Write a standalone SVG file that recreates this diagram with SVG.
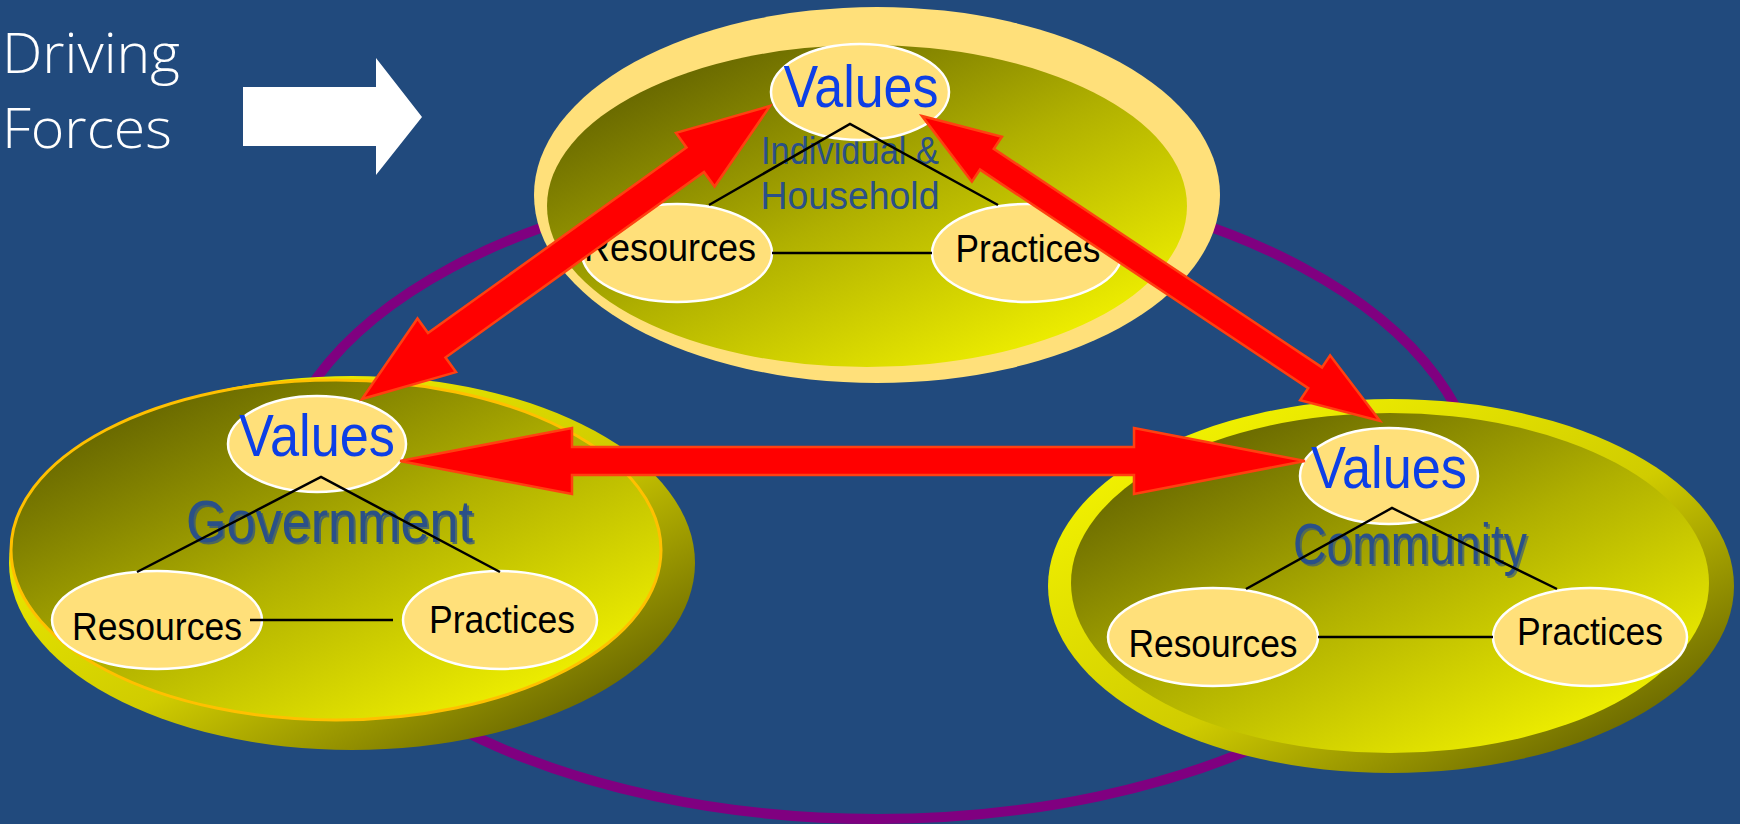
<svg xmlns="http://www.w3.org/2000/svg" width="1740" height="824" viewBox="0 0 1740 824">
  <defs>
    <linearGradient id="gInner" x1="0.1" y1="0.05" x2="0.9" y2="0.95">
      <stop offset="0" stop-color="#5C5C00"/>
      <stop offset="0.5" stop-color="#B0B000"/>
      <stop offset="1" stop-color="#F8F800"/>
    </linearGradient>
    <linearGradient id="gRim" x1="0.1" y1="0.1" x2="0.9" y2="0.9">
      <stop offset="0" stop-color="#F4F400"/>
      <stop offset="0.55" stop-color="#D0CC00"/>
      <stop offset="1" stop-color="#626000"/>
    </linearGradient>
    <style>
      .node { fill: #FFE07A; stroke: #FFFFFF; stroke-width: 2.5; }
      .val { font-family: "Liberation Sans", Arial, sans-serif; font-size: 60px; fill: #0D3FE6; text-anchor: middle; }
      .lbl { font-family: "Liberation Sans", Arial, sans-serif; font-size: 38px; fill: #000000; text-anchor: middle; }
      .grp { font-family: "Liberation Sans", Arial, sans-serif; fill: #2A5088; text-anchor: middle; }
      .link { stroke: #000000; stroke-width: 2.5; fill: none; }
      .arrow { fill: #FF0000; stroke: #FF4010; stroke-width: 2.5; stroke-linejoin: miter; }
      .df { font-family: "Open Sans", "Liberation Sans", sans-serif; font-weight: 300; font-size: 56px; fill: #FFFFFF; }
    </style>
  </defs>

  <rect x="0" y="0" width="1740" height="824" fill="#214A7D"/>

  <g id="cycle">
    <ellipse cx="877" cy="496" rx="602" ry="323" fill="none" stroke="#800080" stroke-width="10"/>
  </g>

  <g id="driving-forces">
    <text class="df" x="2" y="73" textLength="178" lengthAdjust="spacingAndGlyphs">Driving</text>
    <text class="df" x="2" y="148" textLength="170" lengthAdjust="spacingAndGlyphs">Forces</text>
    <polygon points="243,87 376,87 376,58 422,117 376,175 376,146 243,146" fill="#FFFFFF"/>
  </g>

  <g id="household">
    <ellipse cx="877" cy="195" rx="343" ry="188" fill="#FFE07A"/>
    <ellipse cx="867" cy="206" rx="320" ry="161" fill="url(#gInner)"/>
    <text class="grp" x="850" y="164" font-size="38" textLength="178" lengthAdjust="spacingAndGlyphs">Individual &amp;</text>
    <text class="grp" x="850" y="209" font-size="38" textLength="179" lengthAdjust="spacingAndGlyphs">Household</text>
    <g id="household-values">
      <ellipse class="node" cx="860" cy="92" rx="89" ry="48"/>
      <text class="val" x="861" y="107" textLength="155" lengthAdjust="spacingAndGlyphs">Values</text>
    </g>
    <g id="household-resources">
      <ellipse class="node" cx="677" cy="253" rx="95" ry="49"/>
      <text class="lbl" x="670" y="261" textLength="172" lengthAdjust="spacingAndGlyphs">Resources</text>
    </g>
    <g id="household-practices">
      <ellipse class="node" cx="1027" cy="253" rx="95" ry="49"/>
      <text class="lbl" x="1028" y="262" textLength="145" lengthAdjust="spacingAndGlyphs">Practices</text>
    </g>
  </g>

  <g id="government">
    <ellipse cx="352" cy="563" rx="343" ry="187" fill="url(#gRim)"/>
    <ellipse cx="336" cy="550" rx="325" ry="170" fill="url(#gInner)" stroke="#FFC000" stroke-width="3"/>
    <text class="grp" x="331.5" y="544" font-size="60" fill="#F0F0B0" opacity="0.7" textLength="287" lengthAdjust="spacingAndGlyphs">Government</text>
    <text class="grp" x="329.5" y="542" font-size="60" textLength="287" lengthAdjust="spacingAndGlyphs">Government</text>
    <g id="government-values">
      <ellipse class="node" cx="317" cy="444" rx="89" ry="48"/>
      <text class="val" x="317" y="456" textLength="156" lengthAdjust="spacingAndGlyphs">Values</text>
    </g>
    <g id="government-resources">
      <ellipse class="node" cx="157" cy="620" rx="105" ry="49"/>
      <text class="lbl" x="157" y="640" textLength="170" lengthAdjust="spacingAndGlyphs">Resources</text>
    </g>
    <g id="government-practices">
      <ellipse class="node" cx="500" cy="620" rx="97" ry="49"/>
      <text class="lbl" x="502" y="633" textLength="146" lengthAdjust="spacingAndGlyphs">Practices</text>
    </g>
  </g>

  <g id="community">
    <ellipse cx="1391" cy="586" rx="343" ry="187" fill="url(#gRim)"/>
    <ellipse cx="1390" cy="583" rx="319" ry="170" fill="url(#gInner)"/>
    <text class="grp" x="1412" y="566" font-size="58" fill="#303000" opacity="0.6" textLength="234" lengthAdjust="spacingAndGlyphs">Community</text>
    <text class="grp" x="1410" y="564" font-size="58" textLength="234" lengthAdjust="spacingAndGlyphs">Community</text>
    <g id="community-values">
      <ellipse class="node" cx="1389" cy="476" rx="89" ry="48"/>
      <text class="val" x="1389" y="488" textLength="156" lengthAdjust="spacingAndGlyphs">Values</text>
    </g>
    <g id="community-resources">
      <ellipse class="node" cx="1213" cy="637" rx="105" ry="49"/>
      <text class="lbl" x="1213" y="657" textLength="169" lengthAdjust="spacingAndGlyphs">Resources</text>
    </g>
    <g id="community-practices">
      <ellipse class="node" cx="1590" cy="637" rx="97" ry="49"/>
      <text class="lbl" x="1590" y="645" textLength="146" lengthAdjust="spacingAndGlyphs">Practices</text>
    </g>
  </g>

  <g id="connectors">
    <polyline class="link" points="709,205 850,124 998,205"/>
    <line class="link" x1="772" y1="253" x2="932" y2="253"/>
    <polyline class="link" points="137,572 321,477 500,572"/>
    <line class="link" x1="250" y1="620" x2="393" y2="620"/>
    <polyline class="link" points="1246,589 1392,508 1557,589"/>
    <line class="link" x1="1318" y1="637" x2="1493" y2="637"/>

    <polygon class="arrow" points="770,106 676.0,132.9 686.5,147.5 428.0,333.1 417.5,318.5 362,399 456.0,372.1 445.5,357.5 704.0,171.9 714.6,186.5"/>
    <polygon class="arrow" points="922,116 1001.9,136.7 993.8,148.8 1322.0,367.4 1330.1,355.3 1380,421 1300.1,400.3 1308.2,388.2 980.0,169.6 971.9,181.7"/>
    <polygon class="arrow" points="400,461 572,428 572,447 1134,447 1134,428 1305,461 1134,494 1134,475 572,475 572,494"/>
  </g>
</svg>
